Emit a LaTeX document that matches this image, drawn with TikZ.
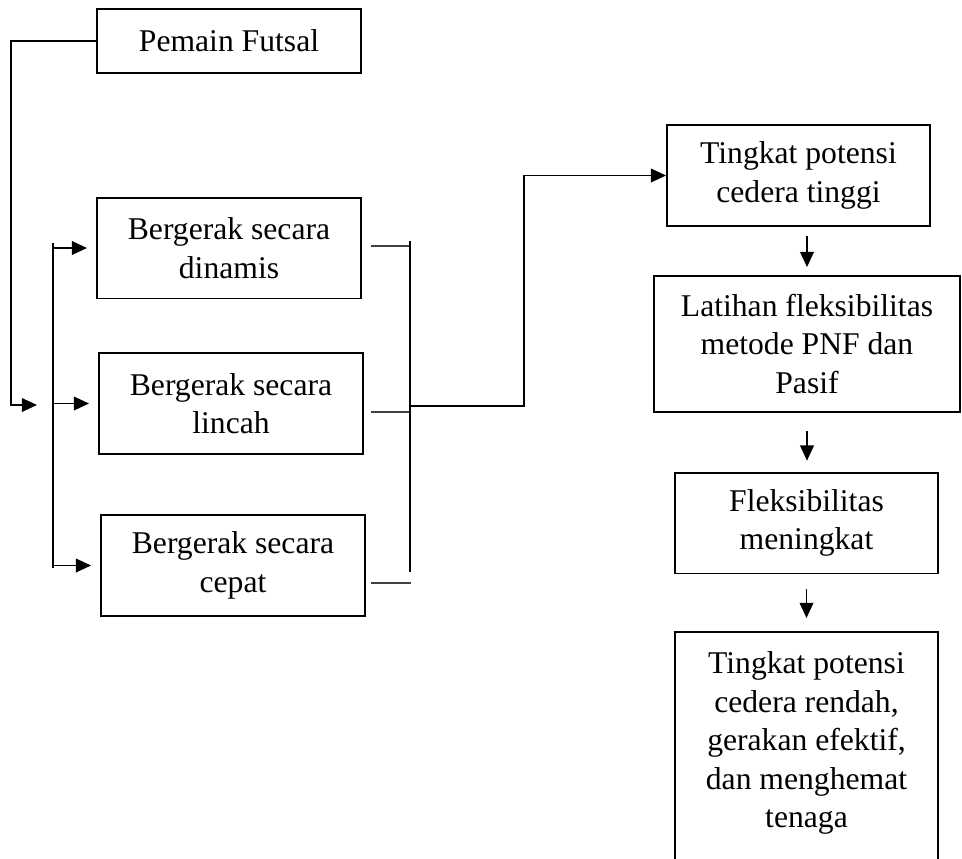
\documentclass[tikz,border=0pt]{standalone}
\usepackage{fontspec}
\setmainfont{Liberation Serif}
\usetikzlibrary{arrows.meta, math}

\begin{document}
\begin{tikzpicture}[x=0.025cm, y=-0.025cm,
  box/.style={draw, line width=1.3pt, align=center, inner sep=0pt,
    font=\fontsize{22.5}{27.3}\selectfont},
  conn/.style={line width=1.4pt},
  arr/.style={conn, -{Triangle[length=0.38cm, width=0.34cm]}},
  stub/.style={line width=1.1pt, black!75}]
\tikzmath{
\boxwl=6.6;
\boxwr=6.575;
\boxh=2.52;
}
\useasboundingbox (0,0) rectangle (962,858);
\clip (0,0) rectangle (962,858);

%left column
\node[box, minimum width=\boxwl cm, minimum height=1.6cm] (pemain) at (229,41) {Pemain Futsal};
\node[box, minimum width=\boxwl cm, minimum height=\boxh cm] (dinamis) at (229,248) {Bergerak secara\\dinamis};
\node[box, minimum width=\boxwl cm, minimum height=\boxh cm] (lincah) at (231,403.5) {Bergerak secara\\lincah};
\node[box, minimum width=\boxwl cm, minimum height=\boxh cm] (cepat) at (233,565.5) {Bergerak secara\\cepat};

%right column
\node[box, minimum width=\boxwr cm, minimum height=\boxh cm] (tinggi) at (798.5,175.5) {Tingkat potensi\\cedera tinggi};
\node[box, minimum width=7.65cm, minimum height=3.4cm] (latihan) at (807,344) {Latihan fleksibilitas\\metode PNF dan\\Pasif};
\node[box, minimum width=\boxwr cm, minimum height=\boxh cm] (fleks) at (806.5,523) {Fleksibilitas\\meningkat};
\node[box, minimum width=\boxwr cm, inner ysep=0.5cm, anchor=north] (rendah) at (806.5,631) {Tingkat potensi\\cedera rendah,\\gerakan efektif,\\dan menghemat\\tenaga\\[3cm]\mbox{}};

\coordinate (inL) at (37,405);
\coordinate (busL) at (53,243);
\coordinate (busLend) at (53,568);
\coordinate (busR) at (410,241);
\coordinate (busRend) at (410,572);
\coordinate (join) at (410,406);

%left bus
\draw[arr] (pemain.west) -- ++(-85,0) |- (inL);
\draw[conn] (busL) -- (busLend);
\foreach \n in {dinamis,lincah,cepat}
  \draw[arr, shorten >=0.225cm] (busL |- \n.west) -- (\n.west);

%right bus
\foreach \n/\dx/\dy in {dinamis/9/-2, lincah/7/8.5, cepat/5/17.5}
  \draw[stub] (\n.east) ++(\dx,\dy) -- ++(40,0);
\draw[conn] (busR) -- (busRend);
\draw[arr] (join) -- ++(114,0) |- (tinggi.west);

%down the right column
\draw[arr, shorten <=0.225cm, shorten >=0.2cm] (latihan.north |- tinggi.south) -- (latihan.north);
\draw[arr, shorten <=0.45cm, shorten >=0.275cm] (latihan.south) -- (latihan.south |- fleks.north);
\draw[arr, shorten <=0.375cm, shorten >=0.325cm] (fleks.south) -- (rendah.north);
\end{tikzpicture}
\end{document}
